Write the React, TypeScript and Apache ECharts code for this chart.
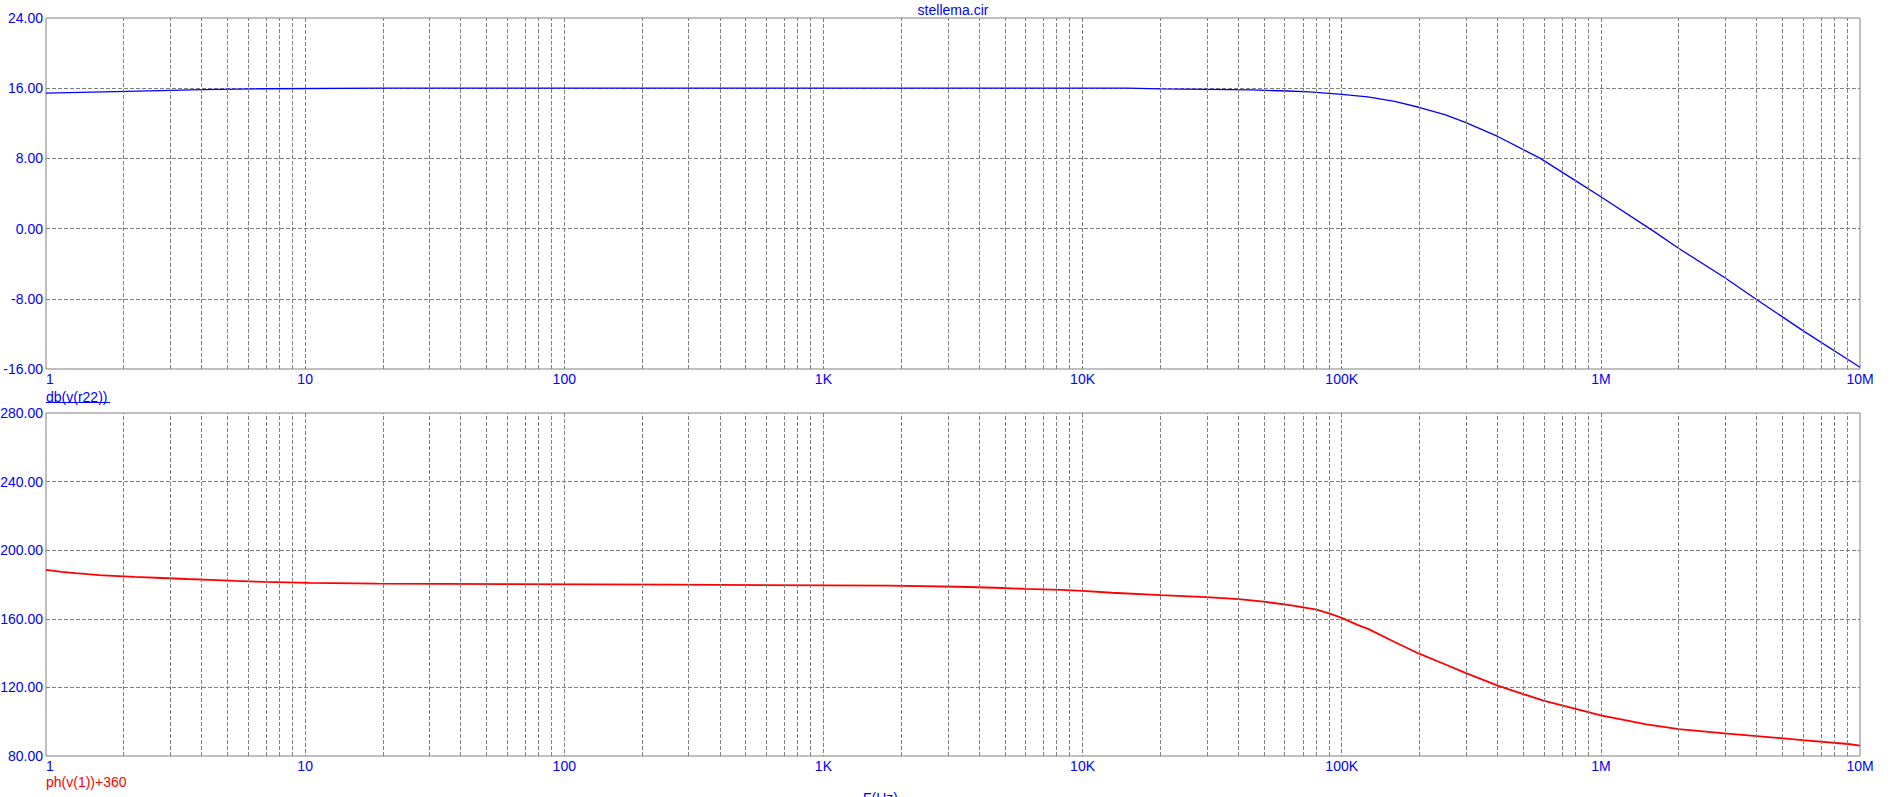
import React, { useEffect, useRef } from "react";
import * as echarts from "echarts";

const xTickLabels = ["1", "10", "100", "1K", "10K", "100K", "1M", "10M"];

const freqDb = [1, 1.5, 2.5, 4, 7, 20, 100, 1000, 15000, 20000, 45000, 62000, 75000, 100000, 126000, 160000, 200000, 250000, 300000, 400000, 584000, 809000, 1e6, 1.58e6, 2e6, 3e6, 4e6, 6e6, 1e7];
const dbValues = [15.45, 15.55, 15.7, 15.83, 15.94, 16.0, 16.0, 16.0, 16.0, 15.93, 15.8, 15.68, 15.57, 15.3, 15.0, 14.5, 13.8, 13.0, 12.1, 10.5, 8.0, 5.35, 3.63, -0.2, -2.26, -5.58, -8.1, -11.6, -15.8];

const freqPh = [1, 1.15, 1.3, 1.45, 1.6, 1.9, 2.2, 2.8, 3.5, 4.3, 5.4, 7, 10.4, 19, 60, 260, 1800, 3300, 4600, 6000, 8300, 10000, 13000, 20000, 30000, 40000, 50000, 64000, 80000, 90000, 100000, 115000, 127000, 160000, 200000, 250000, 300000, 400000, 460000, 600000, 800000, 1e6, 1.5e6, 2e6, 3e6, 4e6, 6e6, 9e6, 1e7];
const phValues = [188.5, 187.4, 186.6, 186.0, 185.5, 184.9, 184.4, 183.8, 183.2, 182.7, 182.1, 181.5, 181.0, 180.5, 180.2, 179.9, 179.3, 178.7, 178.1, 177.5, 176.9, 176.3, 175.2, 173.8, 172.6, 171.5, 170.0, 167.8, 165.3, 163.0, 160.5, 156.5, 154.0, 146.5, 139.5, 133.5, 128.5, 121.0, 118.0, 112.3, 107.5, 103.7, 98.5, 95.7, 93.2, 91.6, 89.3, 87.0, 86.0];

const minorMultipliers = [2, 3, 4, 5, 6, 7, 8, 9];
const decades = [0, 1, 2, 3, 4, 5, 6];

const BLUE = "#0000ff";
const RED = "#ff0000";
const GRIDC = "#808080";
const FONT = "'Liberation Sans', Arial, sans-serif";

export default function App() {
  const ref = useRef<HTMLDivElement>(null);
  useEffect(() => {
    if (!ref.current) return;
    const chart = echarts.init(ref.current, null, { renderer: "svg" });
    const minorLines: number[] = [];
    decades.forEach((d) => minorMultipliers.forEach((k) => minorLines.push(Math.log10(k * Math.pow(10, d)))));
    const dash = [4, 2];
    const xAxisBase = (gridIndex: number) => ({
      type: "value",
      gridIndex,
      min: 0,
      max: 7,
      interval: 1,
      axisLine: { show: false },
      axisTick: { show: false },
      axisLabel: {
        color: BLUE,
        fontFamily: FONT,
        fontSize: 14,
        margin: 3,
        alignMinLabel: "left",
        formatter: (v: number) => xTickLabels[Math.round(v)] ?? "",
      },
      splitLine: { show: true, showMinLine: false, showMaxLine: false, lineStyle: { color: GRIDC, type: dash, width: 1 } },
    });
    const yAxisBase = (gridIndex: number, min: number, max: number, interval: number) => ({
      type: "value",
      gridIndex,
      min,
      max,
      interval,
      axisLine: { show: false },
      axisTick: { show: false },
      axisLabel: {
        color: BLUE,
        fontFamily: FONT,
        fontSize: 14,
        margin: 3,
        formatter: (v: number) => v.toFixed(2),
      },
      splitLine: { show: true, showMinLine: false, showMaxLine: false, lineStyle: { color: GRIDC, type: dash, width: 1 } },
    });
    const minorSeries = (idx: number) => ({
      type: "line",
      xAxisIndex: idx,
      yAxisIndex: idx,
      data: [],
      z: 1,
      silent: true,
      markLine: {
        silent: true,
        symbol: ["none", "none"],
        label: { show: false },
        lineStyle: { color: GRIDC, type: dash, width: 1 },
        emphasis: { disabled: true },
        data: minorLines.map((v) => ({ xAxis: v })),
      },
    });
    chart.setOption({
      animation: false,
      grid: [
        { left: 46, top: 18, width: 1814, height: 351, show: true, borderColor: GRIDC, borderWidth: 1, backgroundColor: "transparent", containLabel: false, outerBoundsMode: "none" },
        { left: 46, top: 413, width: 1814, height: 343, show: true, borderColor: GRIDC, borderWidth: 1, backgroundColor: "transparent", containLabel: false, outerBoundsMode: "none" },
      ],
      xAxis: [xAxisBase(0), xAxisBase(1)],
      yAxis: [yAxisBase(0, -16, 24, 8), yAxisBase(1, 80, 280, 40)],
      series: [
        minorSeries(0),
        minorSeries(1),
        {
          type: "line",
          xAxisIndex: 0,
          yAxisIndex: 0,
          data: freqDb.map((f, i) => [Math.log10(f), dbValues[i]]),
          showSymbol: false,
          smooth: false,
          z: 3,
          lineStyle: { color: BLUE, width: 1.3 },
        },
        {
          type: "line",
          xAxisIndex: 1,
          yAxisIndex: 1,
          data: freqPh.map((f, i) => [Math.log10(f), phValues[i]]),
          showSymbol: false,
          smooth: false,
          z: 3,
          lineStyle: { color: RED, width: 1.8 },
        },
      ],
      graphic: [
        { type: "text", x: 953, y: 10, style: { text: "stellema.cir", fill: BLUE, font: `14px ${FONT}`, textAlign: "center", textVerticalAlign: "middle" } },
        { type: "text", x: 46, y: 397, style: { text: "db(v(r22))", fill: BLUE, font: `14px ${FONT}`, textAlign: "left", textVerticalAlign: "middle" } },
        { type: "line", shape: { x1: 46, y1: 402.5, x2: 110, y2: 402.5 }, style: { stroke: BLUE, lineWidth: 1 } },
        { type: "text", x: 46, y: 782, style: { text: "ph(v(1))+360", fill: RED, font: `14px ${FONT}`, textAlign: "left", textVerticalAlign: "middle" } },
        { type: "text", x: 863, y: 791, style: { text: "F(Hz)", fill: BLUE, font: `14px ${FONT}`, textAlign: "left", textVerticalAlign: "top" } },
      ],
    });
    return () => chart.dispose();
  }, []);
  return <div ref={ref} style={{ position: "fixed", left: 0, top: 0, width: 1892, height: 797, background: "#fff" }} />;
}
